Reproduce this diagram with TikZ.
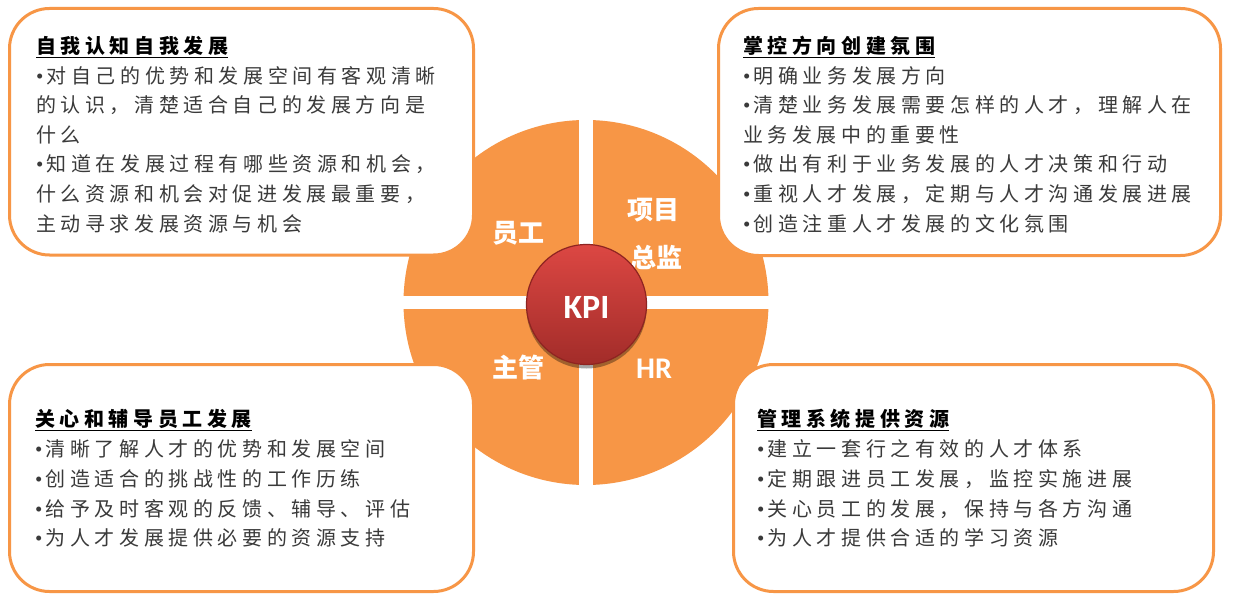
\documentclass[tikz,border=0pt]{standalone}
\usepackage{fontspec}
\setmainfont{Liberation Serif}
\newfontfamily\cjk[LetterSpace=23]{Noto Sans CJK SC}
\newfontfamily\cjklbl{Noto Sans CJK SC}
\newfontfamily\latlbl{Carlito}
\newfontfamily\bulfont{Liberation Serif}
\newcommand{\bul}{\makebox[10.5pt][l]{\bulfont\fontsize{21}{24}\selectfont\char"2022}}
\usetikzlibrary{shadows}
\definecolor{orng}{HTML}{F79646}
\definecolor{bodytxt}{HTML}{3A3A3A}
\definecolor{kpitop}{HTML}{DC4743}
\definecolor{kpibot}{HTML}{A22C29}
\definecolor{kpirim}{HTML}{8E2421}
\tikzset{
  panel/.style={draw=orng, line width=3pt, fill=white, rounded corners=40pt, anchor=north west, inner sep=0pt, outer sep=0pt},
  ttl/.style={anchor=base west, inner sep=0pt, text=black, font=\cjk\bfseries\fontsize{20}{24}\selectfont},
  body/.style={anchor=base west, inner sep=0pt, text=bodytxt, font=\cjk\fontsize{20}{24}\selectfont},
  qlbl/.style={text=white, inner sep=0pt, font=\cjklbl\bfseries\fontsize{26}{30}\selectfont},
  qlat/.style={text=white, inner sep=0pt, font=\latlbl\bfseries\fontsize{30}{32}\selectfont},
  kpiball/.style={circle, minimum size=120pt, inner sep=0pt, top color=kpitop, bottom color=kpibot, draw=kpirim, line width=1.2pt,
    drop shadow={shadow xshift=0pt, shadow yshift=-4pt, opacity=0.35, fill=black}},
}
\begin{document}
\begin{tikzpicture}[x=1pt,y=-1pt]
\useasboundingbox (0,0) rectangle (1234,596);
\fill[white] (0,0) rectangle (1234,596);
% big orange disc split in four
\coordinate (ctr) at (586,302.5);
\fill[orng] (ctr) circle[radius=182.5pt];
\fill[white] (579,110) rectangle (593,495);
\fill[white] (395,296) rectangle (780,309);
% panels
\node[panel, minimum width=464pt, minimum height=246.5pt] (tlbox) at (9.5,8.5) {};
\node[panel, minimum width=502pt, minimum height=247pt] (trbox) at (718.5,8.5) {};
\node[panel, minimum width=464pt, minimum height=227pt] (blbox) at (9.5,364.5) {};
\node[panel, minimum width=480pt, minimum height=227pt] (brbox) at (733.5,364.5) {};
% top-left text
\node[ttl] (tl0) at (36,53.6) {\underline{自我认知自我发展}};
\node[body] (tl1) at (36,83.2) {\bul 对自己的优势和发展空间有客观清晰};
\node[body] (tl2) at (36,112.8) {的认识，清楚适合自己的发展方向是};
\node[body] (tl3) at (36,142.4) {什么};
\node[body] (tl4) at (36,172.0) {\bul 知道在发展过程有哪些资源和机会，};
\node[body] (tl5) at (36,201.6) {什么资源和机会对促进发展最重要，};
\node[body] (tl6) at (36,231.2) {主动寻求发展资源与机会};
% top-right text
\node[ttl] (tr0) at (743,53.6) {\underline{掌控方向创建氛围}};
\node[body] (tr1) at (743,83.2) {\bul 明确业务发展方向};
\node[body] (tr2) at (743,112.8) {\bul 清楚业务发展需要怎样的人才，理解人在};
\node[body] (tr3) at (743,142.4) {业务发展中的重要性};
\node[body] (tr4) at (743,172.0) {\bul 做出有利于业务发展的人才决策和行动};
\node[body] (tr5) at (743,201.6) {\bul 重视人才发展，定期与人才沟通发展进展};
\node[body] (tr6) at (743,231.2) {\bul 创造注重人才发展的文化氛围};
% bottom-left text
\node[ttl] (bl0) at (35,426.6) {\underline{关心和辅导员工发展}};
\node[body] (bl1) at (35,456.4) {\bul 清晰了解人才的优势和发展空间};
\node[body] (bl2) at (35,486.2) {\bul 创造适合的挑战性的工作历练};
\node[body] (bl3) at (35,516.0) {\bul 给予及时客观的反馈、辅导、评估};
\node[body] (bl4) at (35,545.8) {\bul 为人才发展提供必要的资源支持};
% bottom-right text
\node[ttl] (br0) at (757,426.6) {\underline{管理系统提供资源}};
\node[body] (br1) at (757,456.4) {\bul 建立一套行之有效的人才体系};
\node[body] (br2) at (757,486.2) {\bul 定期跟进员工发展，监控实施进展};
\node[body] (br3) at (757,516.0) {\bul 关心员工的发展，保持与各方沟通};
\node[body] (br4) at (757,545.8) {\bul 为人才提供合适的学习资源};
% quadrant labels
\node[qlbl] (qemp) at (518,233) {员工};
\node[qlbl] (qdir1) at (653,210) {项目};
\node[qlbl] (qdir2) at (656,257) {总监};
\node[qlbl] (qmgr) at (518,368) {主管};
\node[qlat] (qhr) at (654,369) {HR};
% KPI ball
\node[kpiball] (kpi) at (586.5,304.5) {};
\node[text=white, inner sep=0pt, font=\latlbl\bfseries\fontsize{34}{36}\selectfont] (kpitxt) at (586.5,307) {KPI};
\end{tikzpicture}
\end{document}
